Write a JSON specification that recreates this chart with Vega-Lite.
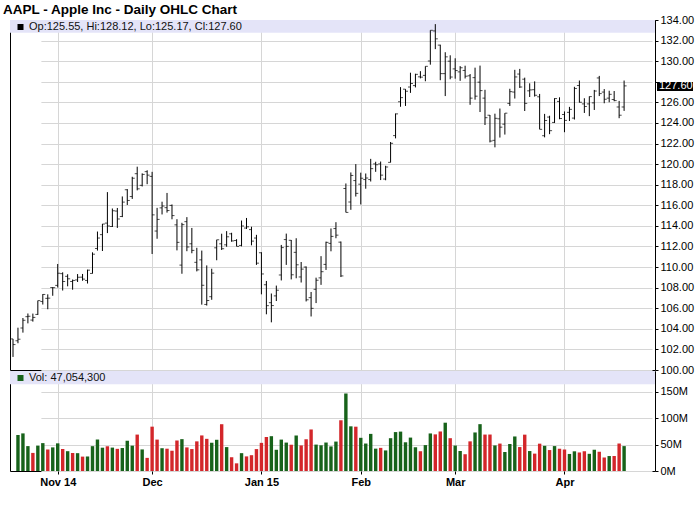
{
  "$schema": "https://vega.github.io/schema/vega-lite/v6.json",
  "background": "white",
  "padding": {"left": 3, "top": 3, "right": 0, "bottom": 0},
  "title": {"text": "AAPL - Apple Inc - Daily OHLC Chart", "anchor": "start", "frame": "group", "font": "Liberation Sans", "fontSize": 13.5, "fontWeight": "bold", "color": "black", "offset": -3, "dx": -7},
  "config": {
    "font": "Liberation Sans",
    "view": {"stroke": "black", "strokeWidth": 1},
    "axis": {"gridColor": "#d6d6d6", "gridWidth": 1, "labelFont": "Liberation Sans", "labelFontSize": 11, "labelColor": "black", "domain": false, "title": null, "tickColor": "black", "labelOverlap": false},
    "legend": {"title": null, "orient": "none", "legendX": 5, "legendY": 1.5, "symbolType": "square", "symbolSize": 36, "symbolOpacity": 1, "symbolStrokeWidth": 0, "labelFontSize": 11, "labelFont": "Liberation Sans", "labelColor": "#111111", "labelOffset": 3, "labelLimit": 600, "padding": 0}
  },
  "bounds": "flush",
  "spacing": 1,
  "resolve": {"scale": {"x": "shared", "y": "independent", "color": "independent"}, "axis": {"x": "independent", "y": "independent"}, "legend": {"color": "independent"}},
  "data": {"values": [
    {"d":"2014-10-21","o":103.02,"h":103.02,"l":101.27,"c":102.47},
    {"d":"2014-10-22","o":102.84,"h":104.11,"l":102.60,"c":102.99,"v":68260000},
    {"d":"2014-10-23","o":104.08,"h":105.05,"l":103.63,"c":104.83,"v":71070000},
    {"d":"2014-10-24","o":105.18,"h":105.49,"l":104.53,"c":105.22,"v":47050000},
    {"d":"2014-10-27","o":104.85,"h":105.48,"l":104.70,"c":105.11,"v":34190000},
    {"d":"2014-10-28","o":105.40,"h":106.74,"l":105.35,"c":106.74,"v":48060000},
    {"d":"2014-10-29","o":106.65,"h":107.37,"l":106.36,"c":107.34,"v":52690000},
    {"d":"2014-10-30","o":106.96,"h":107.35,"l":105.90,"c":106.98,"v":40650000},
    {"d":"2014-10-31","o":108.01,"h":108.04,"l":107.21,"c":108.00,"v":44640000},
    {"d":"2014-11-03","o":108.22,"h":110.30,"l":108.01,"c":109.40,"v":52280000},
    {"d":"2014-11-04","o":109.36,"h":109.49,"l":107.72,"c":108.60,"v":41570000},
    {"d":"2014-11-05","o":109.10,"h":109.30,"l":108.13,"c":108.86,"v":37440000},
    {"d":"2014-11-06","o":108.60,"h":108.79,"l":107.80,"c":108.70,"v":34000000},
    {"d":"2014-11-07","o":108.75,"h":109.32,"l":108.55,"c":109.01,"v":33690000},
    {"d":"2014-11-10","o":109.02,"h":109.33,"l":108.67,"c":108.83,"v":27200000},
    {"d":"2014-11-11","o":108.70,"h":109.75,"l":108.40,"c":109.70,"v":27440000},
    {"d":"2014-11-12","o":109.38,"h":111.43,"l":109.37,"c":111.25,"v":46940000},
    {"d":"2014-11-13","o":111.80,"h":113.45,"l":111.60,"c":112.82,"v":59520000},
    {"d":"2014-11-14","o":113.15,"h":114.19,"l":111.56,"c":114.18,"v":44060000},
    {"d":"2014-11-17","o":114.27,"h":117.28,"l":113.30,"c":113.99,"v":46750000},
    {"d":"2014-11-18","o":113.94,"h":115.69,"l":113.89,"c":115.47,"v":44220000},
    {"d":"2014-11-19","o":115.44,"h":115.74,"l":113.80,"c":114.67,"v":41870000},
    {"d":"2014-11-20","o":114.91,"h":116.86,"l":114.85,"c":116.31,"v":43400000},
    {"d":"2014-11-21","o":117.51,"h":117.57,"l":116.03,"c":116.47,"v":57180000},
    {"d":"2014-11-24","o":116.85,"h":118.77,"l":116.62,"c":118.63,"v":47880000},
    {"d":"2014-11-25","o":119.07,"h":119.75,"l":117.45,"c":117.60,"v":68840000},
    {"d":"2014-11-26","o":117.94,"h":119.10,"l":117.83,"c":119.00,"v":40770000},
    {"d":"2014-11-28","o":119.27,"h":119.40,"l":118.05,"c":118.93,"v":24810000},
    {"d":"2014-12-01","o":118.81,"h":119.25,"l":111.27,"c":115.07,"v":83810000},
    {"d":"2014-12-02","o":113.50,"h":115.75,"l":112.75,"c":114.63,"v":59350000},
    {"d":"2014-12-03","o":115.75,"h":116.35,"l":115.11,"c":115.93,"v":43060000},
    {"d":"2014-12-04","o":115.77,"h":117.20,"l":115.29,"c":115.49,"v":42160000},
    {"d":"2014-12-05","o":115.99,"h":116.08,"l":114.64,"c":115.00,"v":38320000},
    {"d":"2014-12-08","o":114.10,"h":114.65,"l":111.62,"c":112.40,"v":57660000},
    {"d":"2014-12-09","o":110.19,"h":114.30,"l":109.35,"c":114.12,"v":60210000},
    {"d":"2014-12-10","o":114.41,"h":114.85,"l":111.54,"c":111.95,"v":44570000},
    {"d":"2014-12-11","o":112.26,"h":113.80,"l":111.34,"c":111.62,"v":41470000},
    {"d":"2014-12-12","o":110.46,"h":111.87,"l":109.58,"c":109.73,"v":56030000},
    {"d":"2014-12-15","o":110.70,"h":111.60,"l":106.35,"c":108.23,"v":67220000},
    {"d":"2014-12-16","o":106.37,"h":110.16,"l":106.26,"c":106.75,"v":60790000},
    {"d":"2014-12-17","o":107.12,"h":109.84,"l":106.82,"c":109.41,"v":53410000},
    {"d":"2014-12-18","o":111.87,"h":112.65,"l":110.66,"c":112.65,"v":59010000},
    {"d":"2014-12-19","o":112.26,"h":113.24,"l":111.66,"c":111.78,"v":88430000},
    {"d":"2014-12-22","o":112.16,"h":113.49,"l":111.97,"c":112.94,"v":45170000},
    {"d":"2014-12-23","o":113.23,"h":113.33,"l":112.46,"c":112.54,"v":26030000},
    {"d":"2014-12-24","o":112.58,"h":112.71,"l":112.01,"c":112.01,"v":14480000},
    {"d":"2014-12-26","o":112.10,"h":114.52,"l":112.01,"c":113.99,"v":33720000},
    {"d":"2014-12-29","o":113.79,"h":114.77,"l":113.70,"c":113.91,"v":27600000},
    {"d":"2014-12-30","o":113.64,"h":113.92,"l":112.11,"c":112.52,"v":29880000},
    {"d":"2014-12-31","o":112.82,"h":113.13,"l":110.21,"c":110.38,"v":41400000},
    {"d":"2015-01-02","o":111.39,"h":111.44,"l":107.35,"c":109.33,"v":53200000},
    {"d":"2015-01-05","o":108.29,"h":108.65,"l":105.41,"c":106.25,"v":64290000},
    {"d":"2015-01-06","o":106.54,"h":107.43,"l":104.63,"c":106.26,"v":65800000},
    {"d":"2015-01-07","o":107.20,"h":108.20,"l":106.70,"c":107.75,"v":40110000},
    {"d":"2015-01-08","o":109.23,"h":112.15,"l":108.70,"c":111.89,"v":59360000},
    {"d":"2015-01-09","o":112.67,"h":113.25,"l":110.21,"c":112.01,"v":53700000},
    {"d":"2015-01-12","o":112.60,"h":112.63,"l":108.80,"c":109.25,"v":49650000},
    {"d":"2015-01-13","o":111.43,"h":112.80,"l":108.91,"c":110.22,"v":67090000},
    {"d":"2015-01-14","o":109.04,"h":110.49,"l":108.50,"c":109.80,"v":48340000},
    {"d":"2015-01-15","o":110.00,"h":110.06,"l":106.66,"c":106.82,"v":60010000},
    {"d":"2015-01-16","o":107.03,"h":107.58,"l":105.20,"c":105.99,"v":78510000},
    {"d":"2015-01-20","o":107.84,"h":108.97,"l":106.50,"c":108.72,"v":49900000},
    {"d":"2015-01-21","o":108.95,"h":111.06,"l":108.27,"c":109.55,"v":48580000},
    {"d":"2015-01-22","o":110.26,"h":112.47,"l":109.72,"c":112.40,"v":53800000},
    {"d":"2015-01-23","o":112.30,"h":113.75,"l":111.53,"c":112.98,"v":46460000},
    {"d":"2015-01-26","o":113.74,"h":114.36,"l":112.80,"c":113.10,"v":55620000},
    {"d":"2015-01-27","o":112.42,"h":112.48,"l":109.03,"c":109.14,"v":95870000},
    {"d":"2015-01-28","o":117.63,"h":118.12,"l":115.31,"c":115.31,"v":146480000},
    {"d":"2015-01-29","o":116.32,"h":119.19,"l":115.56,"c":118.90,"v":84440000},
    {"d":"2015-01-30","o":118.40,"h":120.00,"l":116.85,"c":117.16,"v":83750000},
    {"d":"2015-02-02","o":118.05,"h":119.17,"l":116.08,"c":118.63,"v":62740000},
    {"d":"2015-02-03","o":118.50,"h":119.09,"l":117.61,"c":118.65,"v":51920000},
    {"d":"2015-02-04","o":118.50,"h":120.51,"l":118.31,"c":119.56,"v":70150000},
    {"d":"2015-02-05","o":120.02,"h":120.23,"l":119.25,"c":119.94,"v":42250000},
    {"d":"2015-02-06","o":120.02,"h":120.25,"l":118.45,"c":118.93,"v":43710000},
    {"d":"2015-02-09","o":118.55,"h":119.84,"l":118.43,"c":119.72,"v":38890000},
    {"d":"2015-02-10","o":120.17,"h":122.15,"l":120.16,"c":122.02,"v":62010000},
    {"d":"2015-02-11","o":122.77,"h":124.92,"l":122.50,"c":124.88,"v":73560000},
    {"d":"2015-02-12","o":126.06,"h":127.48,"l":125.57,"c":126.46,"v":74470000},
    {"d":"2015-02-13","o":127.28,"h":127.28,"l":125.65,"c":127.08,"v":54270000},
    {"d":"2015-02-17","o":127.49,"h":128.88,"l":126.92,"c":127.83,"v":63150000},
    {"d":"2015-02-18","o":127.63,"h":128.78,"l":127.45,"c":128.72,"v":44890000},
    {"d":"2015-02-19","o":128.48,"h":129.03,"l":128.33,"c":128.45,"v":37360000},
    {"d":"2015-02-20","o":128.62,"h":129.50,"l":128.05,"c":129.50,"v":48950000},
    {"d":"2015-02-23","o":130.02,"h":133.00,"l":129.66,"c":133.00,"v":70970000},
    {"d":"2015-02-24","o":132.94,"h":133.60,"l":131.17,"c":132.17,"v":69230000},
    {"d":"2015-02-25","o":131.56,"h":131.60,"l":128.15,"c":128.79,"v":74710000},
    {"d":"2015-02-26","o":128.79,"h":130.87,"l":126.61,"c":130.42,"v":91290000},
    {"d":"2015-02-27","o":130.00,"h":130.57,"l":128.24,"c":128.46,"v":62010000},
    {"d":"2015-03-02","o":129.25,"h":130.28,"l":128.30,"c":129.09,"v":48100000},
    {"d":"2015-03-03","o":128.96,"h":129.52,"l":128.09,"c":129.36,"v":37820000},
    {"d":"2015-03-04","o":129.10,"h":129.56,"l":128.32,"c":128.54,"v":31700000},
    {"d":"2015-03-05","o":128.58,"h":128.75,"l":125.76,"c":126.41,"v":56020000},
    {"d":"2015-03-06","o":128.40,"h":129.37,"l":126.26,"c":126.60,"v":72840000},
    {"d":"2015-03-09","o":127.96,"h":129.57,"l":125.06,"c":127.14,"v":88530000},
    {"d":"2015-03-10","o":126.41,"h":127.22,"l":123.80,"c":124.51,"v":68860000},
    {"d":"2015-03-11","o":124.75,"h":124.77,"l":122.11,"c":122.24,"v":68940000},
    {"d":"2015-03-12","o":122.31,"h":124.90,"l":121.63,"c":124.45,"v":48360000},
    {"d":"2015-03-13","o":124.40,"h":125.40,"l":122.58,"c":123.59,"v":51830000},
    {"d":"2015-03-16","o":123.88,"h":124.95,"l":122.87,"c":124.95,"v":35870000},
    {"d":"2015-03-17","o":125.90,"h":127.32,"l":125.65,"c":127.04,"v":51020000},
    {"d":"2015-03-18","o":127.00,"h":129.16,"l":126.37,"c":128.47,"v":65270000},
    {"d":"2015-03-19","o":128.75,"h":129.25,"l":127.40,"c":127.50,"v":45250000},
    {"d":"2015-03-20","o":128.25,"h":128.40,"l":125.16,"c":125.90,"v":68700000},
    {"d":"2015-03-23","o":127.12,"h":127.85,"l":126.52,"c":127.21,"v":37710000},
    {"d":"2015-03-24","o":127.23,"h":128.04,"l":126.56,"c":126.69,"v":32840000},
    {"d":"2015-03-25","o":126.54,"h":126.82,"l":123.38,"c":123.38,"v":51660000},
    {"d":"2015-03-26","o":122.76,"h":124.88,"l":122.60,"c":124.24,"v":47570000},
    {"d":"2015-03-27","o":124.57,"h":124.70,"l":122.91,"c":123.25,"v":39580000},
    {"d":"2015-03-30","o":124.05,"h":126.40,"l":124.00,"c":126.37,"v":47100000},
    {"d":"2015-03-31","o":126.09,"h":126.49,"l":124.36,"c":124.43,"v":42090000},
    {"d":"2015-04-01","o":124.82,"h":125.12,"l":123.10,"c":124.25,"v":40620000},
    {"d":"2015-04-02","o":125.03,"h":125.56,"l":124.19,"c":125.32,"v":32220000},
    {"d":"2015-04-06","o":124.47,"h":127.51,"l":124.33,"c":127.35,"v":37190000},
    {"d":"2015-04-07","o":127.64,"h":128.12,"l":125.98,"c":126.01,"v":35010000},
    {"d":"2015-04-08","o":125.85,"h":126.40,"l":124.97,"c":125.60,"v":37330000},
    {"d":"2015-04-09","o":125.85,"h":126.58,"l":124.66,"c":126.56,"v":32480000},
    {"d":"2015-04-10","o":125.95,"h":127.21,"l":125.26,"c":127.10,"v":40190000},
    {"d":"2015-04-13","o":128.37,"h":128.57,"l":126.61,"c":126.85,"v":36370000},
    {"d":"2015-04-14","o":127.00,"h":127.29,"l":125.91,"c":126.30,"v":25520000},
    {"d":"2015-04-15","o":126.41,"h":127.13,"l":126.01,"c":126.78,"v":28260000},
    {"d":"2015-04-16","o":126.28,"h":127.10,"l":126.11,"c":126.17,"v":28370000},
    {"d":"2015-04-17","o":125.55,"h":126.14,"l":124.46,"c":124.75,"v":51960000},
    {"d":"2015-04-20","o":125.55,"h":128.12,"l":125.17,"c":127.60,"v":47054300}
  ]},
  "vconcat": [
    {
      "width": 645,
      "height": 350,
      "layer": [
        {
          "data": {"values": [{"label": "Op:125.55, Hi:128.12, Lo:125.17, Cl:127.60"}]},
          "mark": {"type": "rect", "color": "#e4e4f8"},
          "encoding": {
            "y": {"datum": 134, "type": "quantitative", "scale": {"domain": [100, 134], "zero": false, "nice": false},
              "axis": {"orient": "right", "values": [100,102,104,106,108,110,112,114,116,118,120,122,124,126,128,130,132,134], "labelExpr": "datum.value == 128 ? '' : format(datum.value, '.2f')", "labelOverlap": false, "ticks": true, "tickSize": 3, "labelPadding": 2, "grid": true}},
            "y2": {"datum": 132.75}
          }
        },
        {
          "data": {"values": [{"label": "Op:125.55, Hi:128.12, Lo:125.17, Cl:127.60"}]},
          "mark": {"type": "square", "opacity": 0},
          "encoding": {
            "color": {"field": "label", "type": "nominal", "scale": {"range": ["black"]}}
          }
        },
        {
          "mark": {"type": "rule", "color": "black", "strokeWidth": 1},
          "encoding": {
            "x": {"field": "d", "type": "ordinal", "scale": {"type": "point", "range": [3, 614.1], "padding": 0},
              "axis": {"values": ["2014-11-03", "2014-12-01", "2015-01-02", "2015-02-02", "2015-03-02", "2015-04-01"], "labels": false, "ticks": false, "grid": true, "domain": false}},
            "y": {"field": "l", "type": "quantitative", "scale": {"domain": [100, 134], "zero": false, "nice": false},
              "axis": {"orient": "right", "values": [100,102,104,106,108,110,112,114,116,118,120,122,124,126,128,130,132,134], "labelExpr": "datum.value == 128 ? '' : format(datum.value, '.2f')", "labelOverlap": false, "ticks": true, "tickSize": 3, "labelPadding": 2, "grid": true}},
            "y2": {"field": "h"}
          }
        },
        {
          "mark": {"type": "tick", "orient": "horizontal", "color": "black", "size": 2.5, "thickness": 1, "xOffset": -1.25},
          "encoding": {
            "x": {"field": "d", "type": "ordinal"},
            "y": {"field": "o", "type": "quantitative", "axis": {"orient": "right", "values": [100,102,104,106,108,110,112,114,116,118,120,122,124,126,128,130,132,134], "labelExpr": "datum.value == 128 ? '' : format(datum.value, '.2f')", "labelOverlap": false, "ticks": true, "tickSize": 3, "labelPadding": 2, "grid": true}}
          }
        },
        {
          "mark": {"type": "tick", "orient": "horizontal", "color": "black", "size": 2.5, "thickness": 1, "xOffset": 1.25},
          "encoding": {
            "x": {"field": "d", "type": "ordinal"},
            "y": {"field": "c", "type": "quantitative", "axis": {"orient": "right", "values": [100,102,104,106,108,110,112,114,116,118,120,122,124,126,128,130,132,134], "labelExpr": "datum.value == 128 ? '' : format(datum.value, '.2f')", "labelOverlap": false, "ticks": true, "tickSize": 3, "labelPadding": 2, "grid": true}}
          }
        },
        {
          "transform": [{"filter": "datum.d == '2015-04-20'"}],
          "mark": {"type": "rect", "color": "black", "xOffset": 2, "x2Offset": 38, "yOffset": -4, "y2Offset": 5},
          "encoding": {
            "x": {"value": "width"},
            "x2": {"value": "width"},
            "y": {"field": "c", "type": "quantitative", "axis": {"orient": "right", "values": [100,102,104,106,108,110,112,114,116,118,120,122,124,126,128,130,132,134], "labelExpr": "datum.value == 128 ? '' : format(datum.value, '.2f')", "labelOverlap": false, "ticks": true, "tickSize": 3, "labelPadding": 2, "grid": true}},
            "y2": {"field": "c"}
          }
        },
        {
          "transform": [{"filter": "datum.d == '2015-04-20'"}],
          "mark": {"type": "text", "color": "white", "align": "left", "baseline": "middle", "dx": 4, "dy": 0.5, "fontSize": 11, "font": "Liberation Sans"},
          "encoding": {
            "x": {"value": "width"},
            "y": {"field": "c", "type": "quantitative", "axis": {"orient": "right", "values": [100,102,104,106,108,110,112,114,116,118,120,122,124,126,128,130,132,134], "labelExpr": "datum.value == 128 ? '' : format(datum.value, '.2f')", "labelOverlap": false, "ticks": true, "tickSize": 3, "labelPadding": 2, "grid": true}},
            "text": {"field": "c", "type": "quantitative", "format": ".2f"}
          }
        }
      ]
    },
    {
      "width": 645,
      "height": 100,
      "layer": [
        {
          "data": {"values": [{"label": "Vol: 47,054,300"}]},
          "mark": {"type": "rect", "color": "#e4e4f8"},
          "encoding": {
            "y": {"datum": 189000000, "type": "quantitative", "scale": {"domain": [0, 189000000], "nice": false, "zero": true},
              "axis": {"orient": "right", "values": [0, 50000000, 100000000, 150000000], "labelExpr": "(datum.value / 1000000) + 'M'", "labelOverlap": false, "ticks": true, "tickSize": 3, "labelPadding": 2, "grid": true}},
            "y2": {"datum": 164000000}
          }
        },
        {
          "data": {"values": [{"label": "Vol: 47,054,300"}]},
          "mark": {"type": "square", "opacity": 0},
          "encoding": {
            "color": {"field": "label", "type": "nominal", "scale": {"range": ["#17621a"]}}
          }
        },
        {
          "transform": [
            {"window": [{"op": "lag", "field": "c", "as": "pc"}], "sort": [{"field": "d"}]},
            {"filter": "isValid(datum.v)"}
          ],
          "mark": {"type": "bar", "size": 3.4},
          "encoding": {
            "x": {"field": "d", "type": "ordinal", "scale": {"type": "point", "range": [3, 614.1], "padding": 0},
              "axis": {"values": ["2014-11-03", "2014-12-01", "2015-01-02", "2015-02-02", "2015-03-02", "2015-04-01"], "labelExpr": "datum.value == '2014-11-03' ? 'Nov 14' : datum.value == '2014-12-01' ? 'Dec' : datum.value == '2015-01-02' ? 'Jan 15' : datum.value == '2015-02-02' ? 'Feb' : datum.value == '2015-03-02' ? 'Mar' : 'Apr'", "labelAngle": 0, "labelFontWeight": "bold", "labelFontSize": 11, "labelOverlap": false, "ticks": true, "tickSize": 3, "labelPadding": 2, "grid": true, "domain": false}},
            "y": {"field": "v", "type": "quantitative", "stack": null, "scale": {"domain": [0, 189000000], "nice": false, "zero": true},
              "axis": {"orient": "right", "values": [0, 50000000, 100000000, 150000000], "labelExpr": "(datum.value / 1000000) + 'M'", "labelOverlap": false, "ticks": true, "tickSize": 3, "labelPadding": 2, "grid": true}},
            "color": {"condition": {"test": "datum.c > datum.pc", "value": "#17621a"}, "value": "#d3262a"}
          }
        }
      ]
    }
  ]
}
